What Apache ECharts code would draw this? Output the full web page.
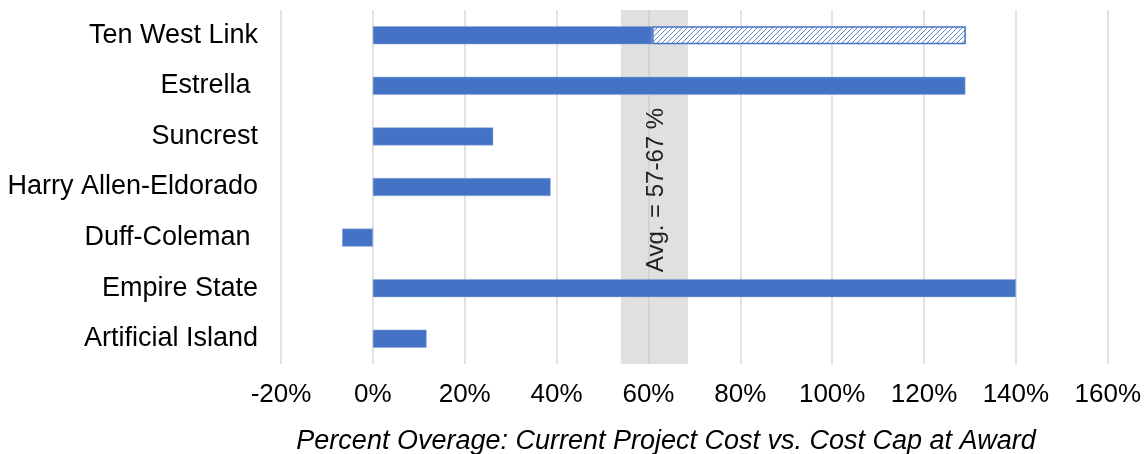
<!DOCTYPE html>
<html>
<head>
<meta charset="utf-8">
<script src="https://cdn.jsdelivr.net/npm/echarts@6/dist/echarts.min.js"></script>
<style>
  html, body { margin: 0; padding: 0; background: #fff; }
  #main { width: 1144px; height: 454px; }
</style>
</head>
<body>
<div id="main"></div>
<script>
// projects, top to bottom as shown
const projects = ['Ten West Link', 'Estrella ', 'Suncrest', 'Harry Allen-Eldorado', 'Duff-Coleman ', 'Empire State', 'Artificial Island'];
// percent overage (solid part)
const overage = [60.8, 129, 26.2, 38.7, -6.7, 140, 11.7];
// additional projected overage (hatched), Ten West Link only
const projected = [68.3, null, null, null, null, null, null];
const xTicks = [-20, 160, 20];  // min, max, step
const avgBand = [54, 68.6];
const avgLabel = 'Avg. = 57-67 %';

const blue = '#4472C4';

// diagonal hatch fill
function hatch() {
  const c = document.createElement('canvas');
  c.width = 5; c.height = 5;
  const ctx = c.getContext('2d');
  ctx.fillStyle = '#fff';
  ctx.fillRect(0, 0, 5, 5);
  ctx.strokeStyle = 'rgba(68,114,196,0.85)';
  ctx.lineWidth = 1;
  ctx.beginPath();
  ctx.moveTo(0, 5); ctx.lineTo(5, 0);
  ctx.moveTo(-1, 1); ctx.lineTo(1, -1);
  ctx.moveTo(4, 6); ctx.lineTo(6, 4);
  ctx.stroke();
  return c;
}

const chart = echarts.init(document.getElementById('main'));
const font = 'Liberation Sans, Arial, sans-serif';

const option = {
  animation: false,
  backgroundColor: '#fff',
  grid: { left: 281, right: 36, top: 10, bottom: 90 },
  xAxis: {
    type: 'value',
    min: xTicks[0],
    max: xTicks[1],
    interval: xTicks[2],
    axisLine: { show: false },
    axisTick: { show: false },
    splitLine: { lineStyle: { color: '#d9d9d9', width: 1.5 } },
    axisLabel: {
      formatter: '{value}%',
      color: '#000',
      fontFamily: font,
      fontSize: 26,
      margin: 18
    }
  },
  yAxis: {
    type: 'category',
    inverse: true,
    data: projects,
    axisLine: { show: false },
    axisTick: { show: false },
    axisLabel: {
      color: '#000',
      fontFamily: font,
      fontSize: 27,
      margin: 23
    }
  },
  series: [
    {
      type: 'bar',
      stack: 'total',
      barWidth: 18,
      data: overage,
      itemStyle: { color: blue, borderColor: '#8fa9dc', borderWidth: 0.5 }
    },
    {
      type: 'bar',
      stack: 'total',
      barWidth: 18,
      data: projected,
      itemStyle: {
        color: { image: hatch(), repeat: 'repeat' },
        borderColor: blue,
        borderWidth: 1.5
      }
    },
    {
      type: 'line',
      data: [],
      z: 5,
      silent: true,
      markArea: {
        silent: true,
        itemStyle: { color: 'rgba(198,198,198,0.54)' },
        label: { show: false },
        data: [[{ xAxis: avgBand[0] }, { xAxis: avgBand[1] }]]
      }
    }
  ],
  graphic: [
    {
      type: 'text',
      x: 656,
      y: 190,
      rotation: Math.PI / 2,
      z: 10,
      style: {
        text: avgLabel,
        fill: '#222',
        font: '24px ' + font,
        textAlign: 'center',
        textVerticalAlign: 'middle'
      }
    },
    {
      type: 'text',
      x: 666,
      y: 441,
      style: {
        text: 'Percent Overage: Current Project Cost vs. Cost Cap at Award',
        fill: '#000',
        font: 'italic 27px ' + font,
        textAlign: 'center',
        textVerticalAlign: 'middle'
      }
    }
  ]
};

chart.setOption(option);
</script>
</body>
</html>
